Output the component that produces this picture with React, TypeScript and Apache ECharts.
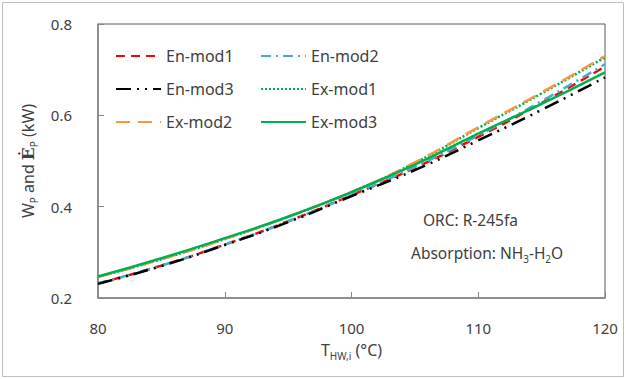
import React, { useEffect, useRef } from "react";
import * as echarts from "echarts";

const temps = [80, 85, 90, 95, 100, 105, 110, 115, 120];
const enMod1 = [0.232, 0.271, 0.317, 0.368, 0.425, 0.485, 0.553, 0.627, 0.707];
const enMod2 = [0.232, 0.271, 0.317, 0.368, 0.425, 0.487, 0.556, 0.631, 0.712];
const enMod3 = [0.231, 0.27, 0.316, 0.366, 0.423, 0.48, 0.545, 0.612, 0.683];
const exMod1 = [0.246, 0.285, 0.329, 0.378, 0.432, 0.496, 0.572, 0.648, 0.727];
const exMod2 = [0.246, 0.285, 0.329, 0.378, 0.432, 0.497, 0.574, 0.65, 0.73];
const exMod3 = [0.247, 0.287, 0.331, 0.378, 0.432, 0.492, 0.56, 0.625, 0.694];
const seriesNames = ["En-mod1", "En-mod2", "En-mod3", "Ex-mod1", "Ex-mod2", "Ex-mod3"];
const seriesValues = [enMod1, enMod2, enMod3, exMod1, exMod2, exMod3];
const seriesColors = ["#ff0000", "#4bacc6", "#000000", "#00b050", "#f79646", "#00b050"];
const seriesDashes: any[] = [[9, 6], [10, 5, 2, 5], [15, 6, 2, 6, 2, 6], [2, 2], [14, 8], "solid"];

const FONT = "Noto Sans";
const TXT = "#404040";

export default function App() {
  const ref = useRef<HTMLDivElement>(null);
  useEffect(() => {
    if (!ref.current) return;
    const chart = echarts.init(ref.current, undefined, { renderer: "svg" });
    const legendLeft = [110, 255];
    const legendTop = [43, 76, 109];
    chart.setOption({
      animation: false,
      backgroundColor: "#ffffff",
      textStyle: { fontFamily: FONT },
      grid: {
        left: 98,
        right: 21,
        top: 24,
        bottom: 81,
        show: true,
        borderColor: "#595959",
        borderWidth: 1,
      },
      legend: seriesNames.map((name, i) => ({
        left: legendLeft[i % 2],
        top: legendTop[Math.floor(i / 2)],
        itemWidth: 45,
        itemHeight: 14,
        itemGap: 5,
        data: [name],
        itemStyle: { opacity: 0 },
        textStyle: { fontSize: 16, color: TXT, fontFamily: FONT },
      })),
      xAxis: {
        type: "value",
        min: 80,
        max: 120,
        interval: 10,
        axisLine: { show: true, lineStyle: { color: "#868686", width: 1.5 } },
        axisTick: { show: true, inside: true, length: 6, lineStyle: { color: "#868686" } },
        splitLine: { show: false },
        axisLabel: { fontSize: 15, color: TXT, margin: 22, fontFamily: FONT },
        name: "{n|T}{s|HW,i}{n| (°C)}",
        nameLocation: "middle",
        nameGap: 44,
        nameTextStyle: {
          rich: {
            n: { fontSize: 16, color: TXT, fontFamily: FONT, verticalAlign: "bottom" },
            s: { fontSize: 10, color: TXT, fontFamily: FONT, verticalAlign: "bottom", padding: [0, 0, -3, 0] },
          },
        },
      },
      yAxis: {
        type: "value",
        min: 0.2,
        max: 0.8,
        interval: 0.2,
        axisLine: { show: true, lineStyle: { color: "#868686", width: 1.5 } },
        axisTick: { show: true, inside: true, length: 6, lineStyle: { color: "#868686" } },
        splitLine: { show: false },
        axisLabel: {
          fontSize: 15,
          color: TXT,
          margin: 26,
          fontFamily: FONT,
          formatter: (v: number) => v.toFixed(1),
        },
        name: "{n|W}{s|P}{n| and }{e|Ė}{s|P}{n| (kW)}",
        nameLocation: "middle",
        nameRotate: 90,
        nameGap: 62,
        nameTextStyle: {
          rich: {
            n: { fontSize: 16, color: TXT, fontFamily: FONT, verticalAlign: "bottom" },
            e: { fontSize: 17, color: TXT, fontFamily: "DejaVu Serif", fontWeight: "bold", verticalAlign: "bottom" },
            s: { fontSize: 10, color: TXT, fontFamily: FONT, verticalAlign: "bottom", padding: [0, 0, -3, 0] },
          },
        },
      },
      series: seriesNames.map((name, i) => ({
        name,
        type: "line",
        smooth: true,
        symbol: "none",
        data: temps.map((t, j) => [t, seriesValues[i][j]]),
        itemStyle: { color: seriesColors[i] },
        lineStyle: { color: seriesColors[i], width: 2.5, type: seriesDashes[i] },
      })),
      graphic: [
        {
          type: "rect",
          shape: { x: 2.5, y: 2.5, width: 621, height: 374 },
          style: { fill: "none", stroke: "#bfbfbf", lineWidth: 1 },
          silent: true,
        },
        {
          type: "text",
          left: 423,
          top: 212,
          style: { text: "ORC: R-245fa", fontSize: 15.5, fill: TXT, fontFamily: FONT },
        },
        {
          type: "text",
          left: 411,
          top: 245,
          style: {
            text: "{n|Absorption: NH}{s|3}{n|-H}{s|2}{n|O}",
            rich: {
              n: { fontSize: 15.5, fill: TXT, fontFamily: FONT, verticalAlign: "bottom" },
              s: { fontSize: 10, fill: TXT, fontFamily: FONT, verticalAlign: "bottom", padding: [0, 0, -3, 0] },
            },
          },
        },
      ],
    });
    return () => chart.dispose();
  }, []);
  return <div ref={ref} style={{ position: "absolute", left: 0, top: 0, width: 626, height: 379 }} />;
}
